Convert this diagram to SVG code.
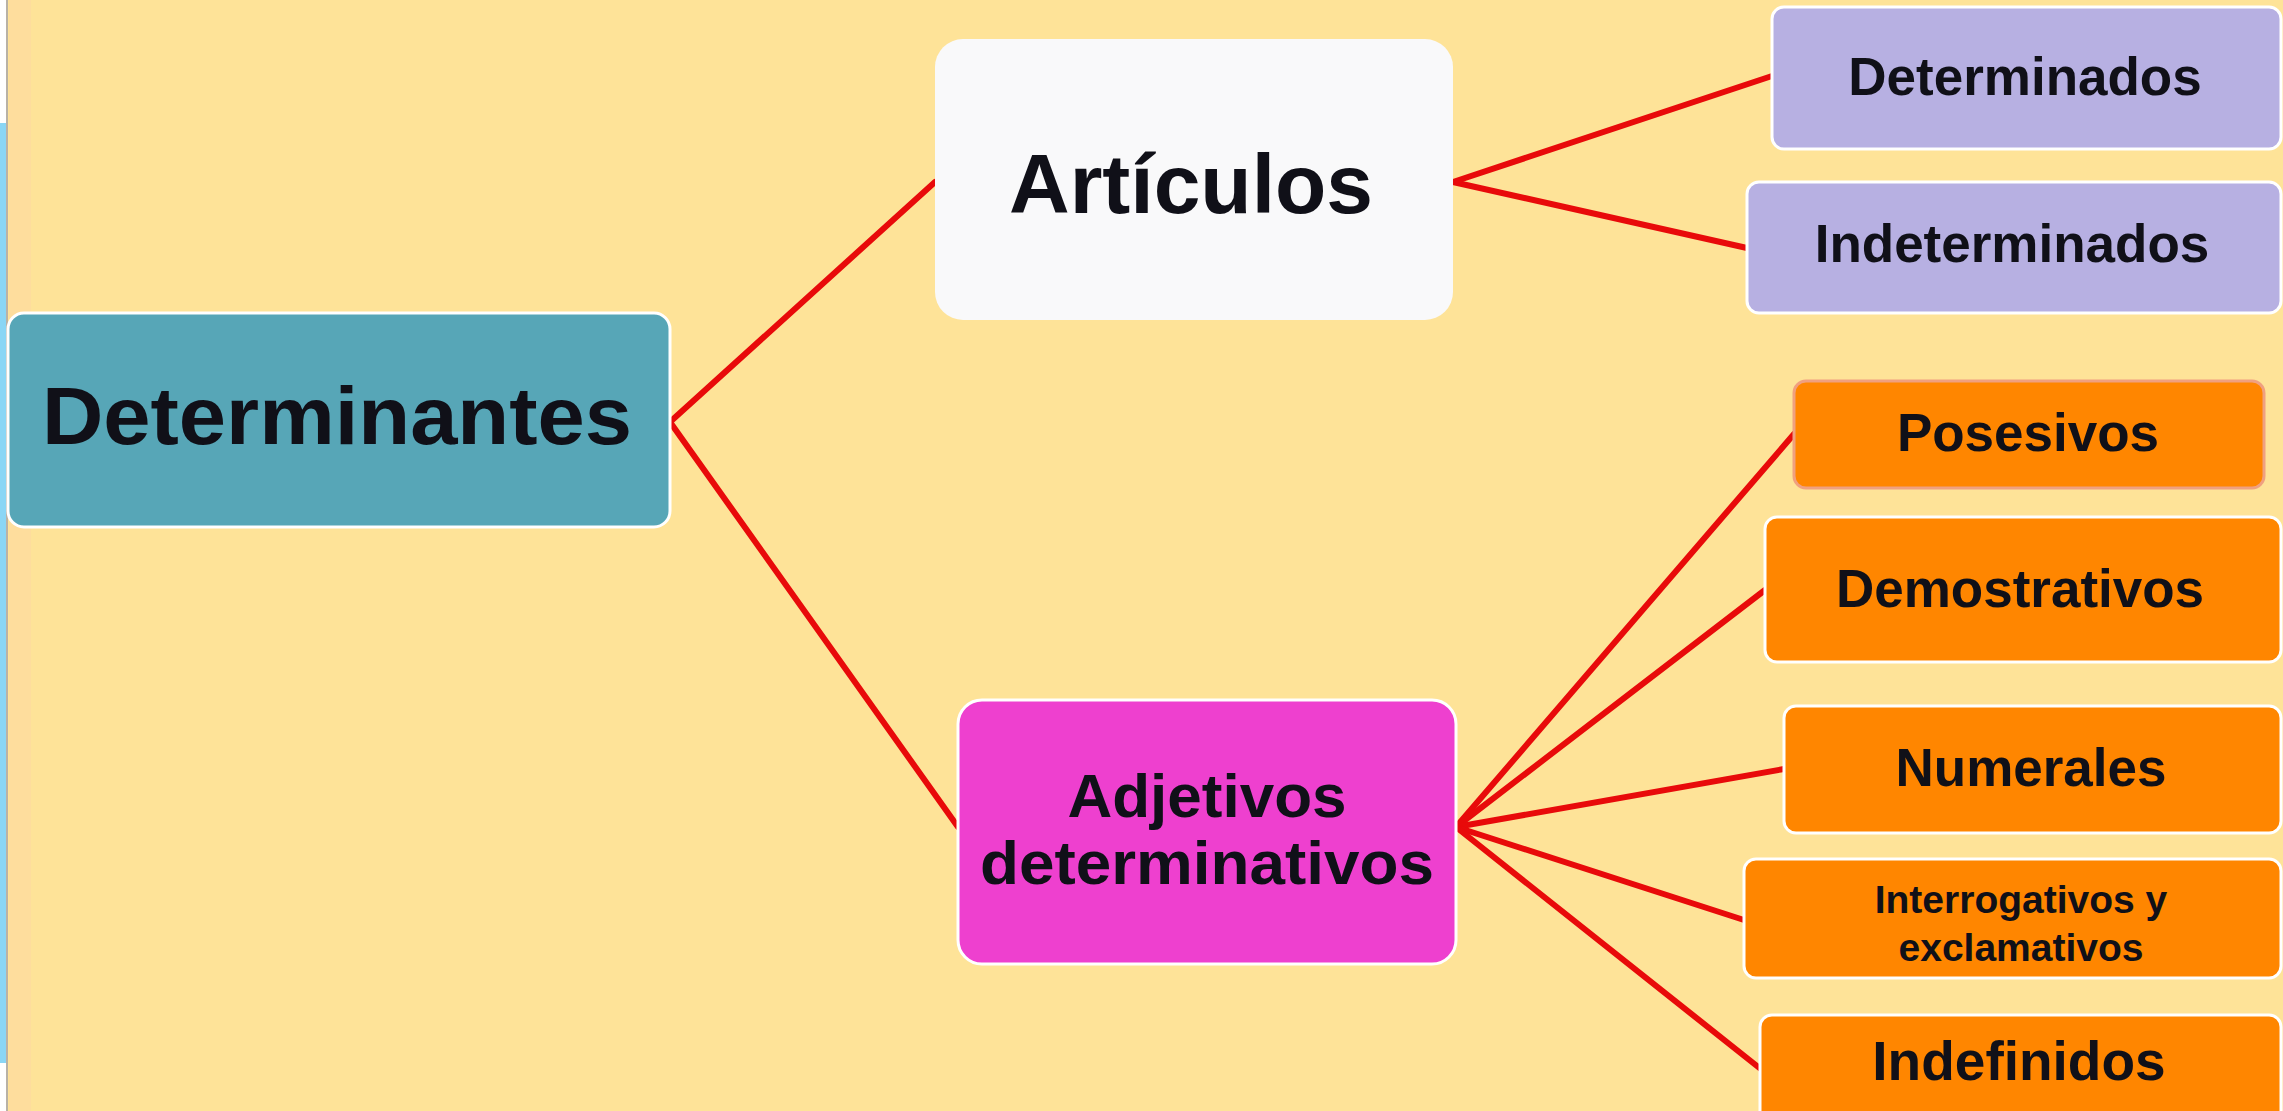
<svg xmlns="http://www.w3.org/2000/svg" width="2283" height="1111" viewBox="0 0 2283 1111">
<style>
.bg{fill:#fee398}
.box{stroke:#ffffff;stroke-width:3}
.t{font-family:"Liberation Sans",Arial,sans-serif;font-weight:bold;fill:#101018;text-anchor:middle}
.c{stroke:#e80a0a;stroke-width:6;fill:none;stroke-linecap:round}
</style>
<rect class="bg" x="0" y="0" width="2283" height="1111"/>
<rect x="0" y="0" width="7" height="1111" fill="#ffffff"/>
<rect x="0" y="123" width="7" height="940" fill="#8ad6f5"/>
<rect x="6" y="0" width="2" height="1111" fill="#b9b2a6"/>
<rect x="9" y="0" width="22" height="1111" fill="#fed9a0" opacity="0.6"/>
<g id="connectors">
<line class="c" x1="670" y1="422" x2="935" y2="182"/>
<line class="c" x1="670" y1="422" x2="958" y2="827"/>
<line class="c" x1="1453" y1="182" x2="1772" y2="76"/>
<line class="c" x1="1453" y1="182" x2="1747" y2="248"/>
<line class="c" x1="1456" y1="827" x2="1794" y2="434"/>
<line class="c" x1="1456" y1="827" x2="1765" y2="590"/>
<line class="c" x1="1456" y1="827" x2="1784" y2="769"/>
<line class="c" x1="1456" y1="827" x2="1744" y2="920"/>
<line class="c" x1="1456" y1="827" x2="1762" y2="1070"/>
</g>
<g id="determinantes">
<rect class="box" x="8" y="313" width="662" height="214" rx="16" fill="#57a6b7"/>
<text class="t" x="337" y="444" font-size="82" textLength="590" lengthAdjust="spacingAndGlyphs">Determinantes</text>
</g>
<g id="articulos">
<rect x="935" y="39" width="518" height="281" rx="28" fill="#f9f9fa"/>
<text class="t" x="1191" y="213" font-size="84">Artículos</text>
</g>
<g id="adjetivos">
<rect class="box" x="958" y="700" width="498" height="264" rx="24" fill="#ee40cf"/>
<text class="t" x="1207" y="817" font-size="62">Adjetivos</text>
<text class="t" x="1207" y="884" font-size="62" textLength="454" lengthAdjust="spacingAndGlyphs">determinativos</text>
</g>
<g id="determinados">
<rect class="box" x="1772" y="7" width="509" height="142" rx="12" fill="#b7b0e2"/>
<text class="t" x="2025" y="95" font-size="53">Determinados</text>
</g>
<g id="indeterminados">
<rect class="box" x="1747" y="182" width="534" height="131" rx="12" fill="#b7b0e2"/>
<text class="t" x="2012" y="262" font-size="53">Indeterminados</text>
</g>
<g id="posesivos">
<rect x="1794" y="381" width="470" height="107" rx="12" fill="#ff8600" stroke="#f0a080" stroke-width="3"/>
<text class="t" x="2028" y="451" font-size="53">Posesivos</text>
</g>
<g id="demostrativos">
<rect class="box" x="1765" y="517" width="516" height="145" rx="12" fill="#ff8600"/>
<text class="t" x="2020" y="607" font-size="53">Demostrativos</text>
</g>
<g id="numerales">
<rect class="box" x="1784" y="706" width="497" height="127" rx="12" fill="#ff8600"/>
<text class="t" x="2031" y="786" font-size="53">Numerales</text>
</g>
<g id="interrogativos">
<rect class="box" x="1744" y="859" width="537" height="119" rx="12" fill="#ff8600"/>
<text class="t" x="2021" y="913" font-size="39">Interrogativos y</text>
<text class="t" x="2021" y="961" font-size="39">exclamativos</text>
</g>
<g id="indefinidos">
<rect class="box" x="1760" y="1015" width="521" height="110" rx="12" fill="#ff8600"/>
<text class="t" x="2019" y="1080" font-size="55">Indefinidos</text>
</g>
</svg>
